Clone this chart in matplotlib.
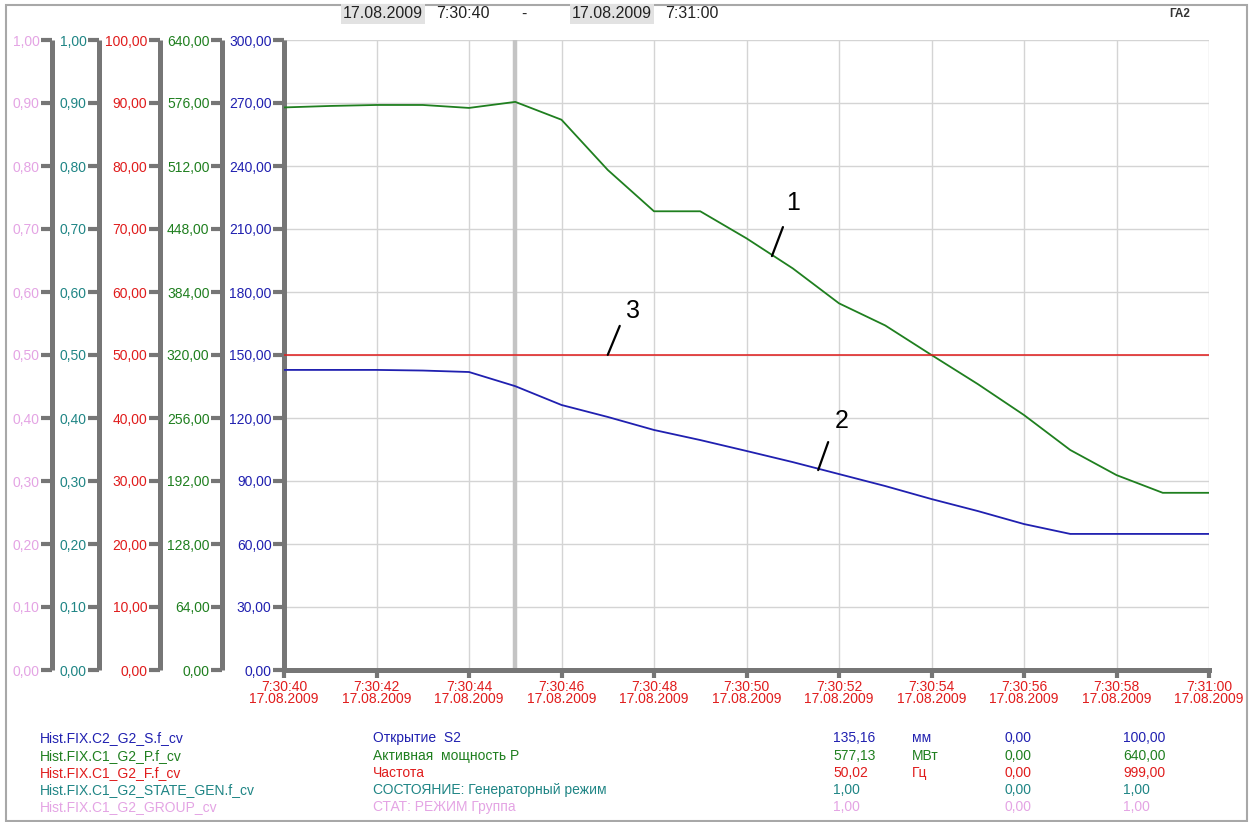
import matplotlib
matplotlib.use("Agg")
import matplotlib.pyplot as plt
import matplotlib.dates as mdates
from matplotlib.ticker import FuncFormatter, FixedLocator
from matplotlib.patches import Rectangle
import pandas as pd
import numpy as np

plt.rcParams['font.family'] = ['Liberation Sans', 'DejaVu Sans']

# ---------------- data ----------------
times = pd.date_range('2009-08-17 07:30:40', '2009-08-17 07:31:00', freq='s')
opening_s2 = [142.9, 142.9, 142.9, 142.6, 141.9, 135.16, 126.2, 120.5, 114.3, 109.5,
              104.3, 99.0, 93.3, 87.6, 81.4, 75.7, 69.5, 64.8, 64.8, 64.8, 64.8]
power_mw = [571.5, 573.0, 574.0, 574.0, 571.0, 577.13, 559.0, 508.0, 466.0, 466.0,
            438.5, 408.0, 372.5, 350.0, 320.0, 290.5, 259.0, 223.5, 198.0, 180.0, 180.0]
frequency = [50.02] * 21
cursor_time = pd.Timestamp('2009-08-17 07:30:45')

blue_ticks = [0, 30, 60, 90, 120, 150, 180, 210, 240, 270, 300]
green_ticks = [0, 64, 128, 192, 256, 320, 384, 448, 512, 576, 640]
red_ticks = [0, 10, 20, 30, 40, 50, 60, 70, 80, 90, 100]
unit_ticks = [0.0, 0.1, 0.2, 0.3, 0.4, 0.5, 0.6, 0.7, 0.8, 0.9, 1.0]

tag_names = ['Hist.FIX.C2_G2_S.f_cv', 'Hist.FIX.C1_G2_P.f_cv', 'Hist.FIX.C1_G2_F.f_cv',
             'Hist.FIX.C1_G2_STATE_GEN.f_cv', 'Hist.FIX.C1_G2_GROUP_cv']
tag_descr = ['Открытие  S2', 'Активная  мощность P', 'Частота',
             'СОСТОЯНИЕ: Генераторный режим', 'СТАТ: РЕЖИМ Группа']
tag_values = ['135,16', '577,13', '50,02', '1,00', '1,00']
tag_units = ['мм', 'МВт', 'Гц', '', '']
tag_min = ['0,00', '0,00', '0,00', '0,00', '0,00']
tag_max = ['100,00', '640,00', '999,00', '1,00', '1,00']

# ---------------- style ----------------
BLUE = '#2020b0'
GREEN = '#1f7f1f'
RED = '#e01c1c'
TEAL = '#1f8585'
PINK = '#e4a4e4'
SPINE = '#767676'
GRID = '#d4d4d4'
W, H = 1257, 822

fig = plt.figure(figsize=(W / 100, H / 100), dpi=100)
ax = fig.add_axes([284 / W, 1 - 670 / H, 925 / W, 630 / H])

def fmt2(v, p=None):
    return f"{v:.2f}".replace('.', ',')

def style_left(a, color, ticks, lim):
    a.set_ylim(lim)
    a.yaxis.set_major_locator(FixedLocator(ticks))
    a.yaxis.set_major_formatter(FuncFormatter(fmt2))
    a.spines['left'].set_linewidth(3.6)
    a.spines['left'].set_color(SPINE)
    a.spines['left'].set_capstyle('butt')
    a.tick_params(axis='y', which='major', direction='out', length=8, width=3,
                  color=SPINE, labelcolor=color, labelsize=10, pad=1)

# main (blue) axis
ax.set_xlim(times[0], times[-1])
style_left(ax, BLUE, blue_ticks, (0, 300))
for s in ['top', 'right']:
    ax.spines[s].set_visible(False)
ax.spines['bottom'].set_linewidth(3.6)
ax.spines['bottom'].set_color(SPINE)
ax.set_xticks(times[::2])
ax.xaxis.set_major_formatter(FuncFormatter(
    lambda x, p: (lambda d: f"{d.hour}:{d:%M:%S}\n{d:%d.%m.%Y}")(mdates.num2date(x))))
ax.tick_params(axis='x', direction='out', length=6, width=3, color=SPINE,
               labelcolor=RED, labelsize=10, pad=1)
for lab in ax.get_xticklabels():
    lab.set_linespacing(0.85)
ax.grid(True, color=GRID, lw=1.0)
ax.set_axisbelow(True)
ax.axvline(cursor_time, color='#c4c4c4', lw=3.2, zorder=1)

ax.plot(times, opening_s2, color=BLUE, lw=1.3, zorder=3)

def extra_axis(pos, color, ticks, lim):
    a = ax.twinx()
    a.yaxis.set_ticks_position('left')
    a.spines['left'].set_position(('axes', pos))
    a.spines['left'].set_visible(True)
    for s in ['right', 'top', 'bottom']:
        a.spines[s].set_visible(False)
    style_left(a, color, ticks, lim)
    return a

ax_green = extra_axis((222 - 284) / 925, GREEN, green_ticks, (0, 640))
ax_red = extra_axis((160 - 284) / 925, RED, red_ticks, (0, 100))
ax_teal = extra_axis((99 - 284) / 925, TEAL, unit_ticks, (0, 1))
ax_pink = extra_axis((52 - 284) / 925, PINK, unit_ticks, (0, 1))

ax_green.plot(times, power_mw, color=GREEN, lw=1.3, zorder=3)
ax_red.plot(times, frequency, color=RED, lw=1.1, zorder=3)

# numbered annotations
def mark(a, t, v, line_dx, line_dy, txt_dx, txt_dy, label):
    a.annotate('', xy=(t, v), xytext=(line_dx, line_dy), textcoords='offset pixels',
               arrowprops=dict(arrowstyle='-', lw=1.6, color='black', shrinkA=0, shrinkB=0))
    a.annotate(label, xy=(t, v), xytext=(txt_dx, txt_dy), textcoords='offset pixels',
               ha='center', va='center', fontsize=18, color='black')

t1 = pd.Timestamp('2009-08-17 07:30:50.55')
mark(ax_green, t1, 420.5, 11, 29, 21, 53, '1')
t3 = pd.Timestamp('2009-08-17 07:30:47.00')
mark(ax_red, t3, 50.02, 12, 29, 25, 44, '3')
t2 = pd.Timestamp('2009-08-17 07:30:51.55')
mark(ax, t2, 95.2, 10, 28, 24, 49, '2')

# ---------------- header ----------------
def ftext(x, y, s, **kw):
    return fig.text(x / W, 1 - y / H, s, **kw)

hdr = dict(fontsize=11.5, va='center', color='#222222')
ftext(343, 14, '17.08.2009', ha='left',
      bbox=dict(facecolor='#e2e2e2', edgecolor='none', pad=1.5), **hdr)
ftext(436, 14, '7:30:40', ha='left', **hdr)
ftext(524, 14, '-', ha='center', **hdr)
ftext(572, 14, '17.08.2009', ha='left',
      bbox=dict(facecolor='#e2e2e2', edgecolor='none', pad=1.5), **hdr)
ftext(665, 14, '7:31:00', ha='left', **hdr)
ftext(1180, 14, 'ГА2', ha='center', fontsize=8.5, fontweight='bold', va='center', color='#333333')

# outer frame
fig.add_artist(Rectangle((6 / W, 1 / H), (1247 - 6) / W, (817 - 1) / H,
                         transform=fig.transFigure, fill=False, edgecolor='#a8a8a8', lw=1.5))

# ---------------- legend table ----------------
row_colors = [BLUE, GREEN, RED, TEAL, PINK]
row_y = [738, 756, 773, 790, 807]
for i in range(5):
    kw = dict(fontsize=10, va='center', ha='left', color=row_colors[i])
    ftext(40, row_y[i], tag_names[i], **kw)
    ftext(373, row_y[i], tag_descr[i], **kw)
    ftext(833, row_y[i], tag_values[i], **kw)
    ftext(912, row_y[i], tag_units[i], **kw)
    ftext(1005, row_y[i], tag_min[i], **kw)
    ftext(1123, row_y[i], tag_max[i], **kw)

fig.savefig('out.png', dpi=100)
